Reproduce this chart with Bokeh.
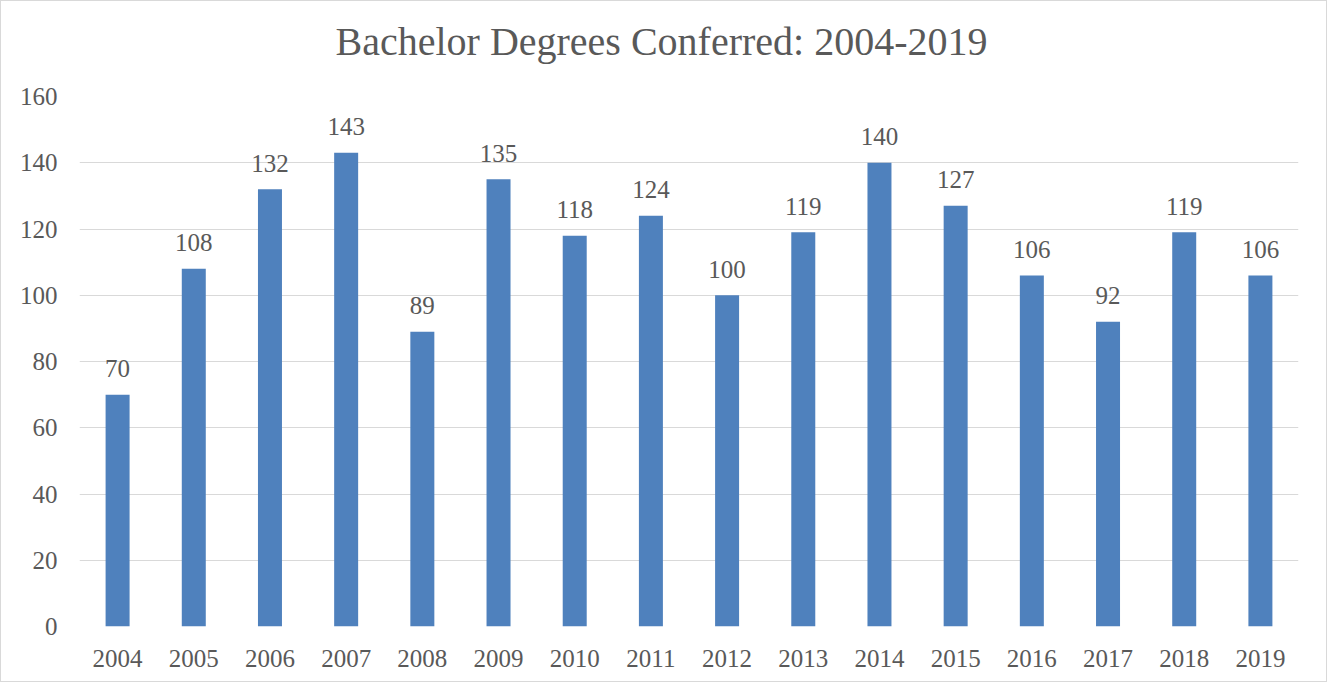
from bokeh.plotting import figure
from bokeh.models import Range1d, FixedTicker, ColumnDataSource, Title
from bokeh.core.properties import value
from bokeh.embed import file_html
from bokeh.resources import INLINE

years = ["2004", "2005", "2006", "2007", "2008", "2009", "2010", "2011",
         "2012", "2013", "2014", "2015", "2016", "2017", "2018", "2019"]
degrees = [70, 108, 132, 143, 89, 135, 118, 124, 100, 119, 140, 127, 106, 92, 119, 106]
y_ticks = [0, 20, 40, 60, 80, 100, 120, 140, 160]
title_text = "Bachelor Degrees Conferred: 2004-2019"

FONT = "Liberation Serif"
TXT = "#595959"

src = ColumnDataSource(dict(x=years, y=degrees, lbl=[str(v) for v in degrees]))

p = figure(x_range=years, y_range=Range1d(0, 160), width=1327, height=682,
           output_backend="svg", toolbar_location=None,
           min_border_left=78, min_border_right=30, min_border_top=95, min_border_bottom=57)
p.styles = {"border": "1px solid #d9d9d9"}
p.outline_line_color = None
p.background_fill_color = "white"

# spacer between frame and title
p.add_layout(Title(text=" ", text_font_size="10px", standoff=20), "above")

p.title.text = title_text
p.title.align = "left"
p.title.offset = 256
p.title.text_font = FONT
p.title.text_font_size = "40px"
p.title.text_font_style = "normal"
p.title.text_color = TXT
p.title.standoff = 0

p.vbar(x="x", top="y", width=0.315, source=src, fill_color="#4F81BD", line_color=None)
p.text(x="x", y="y", text="lbl", source=src, text_align="center", text_baseline="alphabetic",
       y_offset=-26, text_font=value(FONT), text_font_size="25px", text_color=TXT)

p.xgrid.grid_line_color = None
p.ygrid.grid_line_color = "#D9D9D9"
p.ygrid.grid_line_width = 1
p.yaxis.ticker = FixedTicker(ticks=y_ticks)

for ax in (p.xaxis, p.yaxis):
    ax.axis_line_color = None
    ax.major_tick_line_color = None
    ax.minor_tick_line_color = None
    ax.major_tick_out = 0
    ax.major_tick_in = 0
    ax.major_label_text_font = FONT
    ax.major_label_text_font_size = "25px"
    ax.major_label_text_color = TXT
p.yaxis.major_label_standoff = 22
p.xaxis.major_label_standoff = 23

open("out.html", "w").write(file_html(p, INLINE))
